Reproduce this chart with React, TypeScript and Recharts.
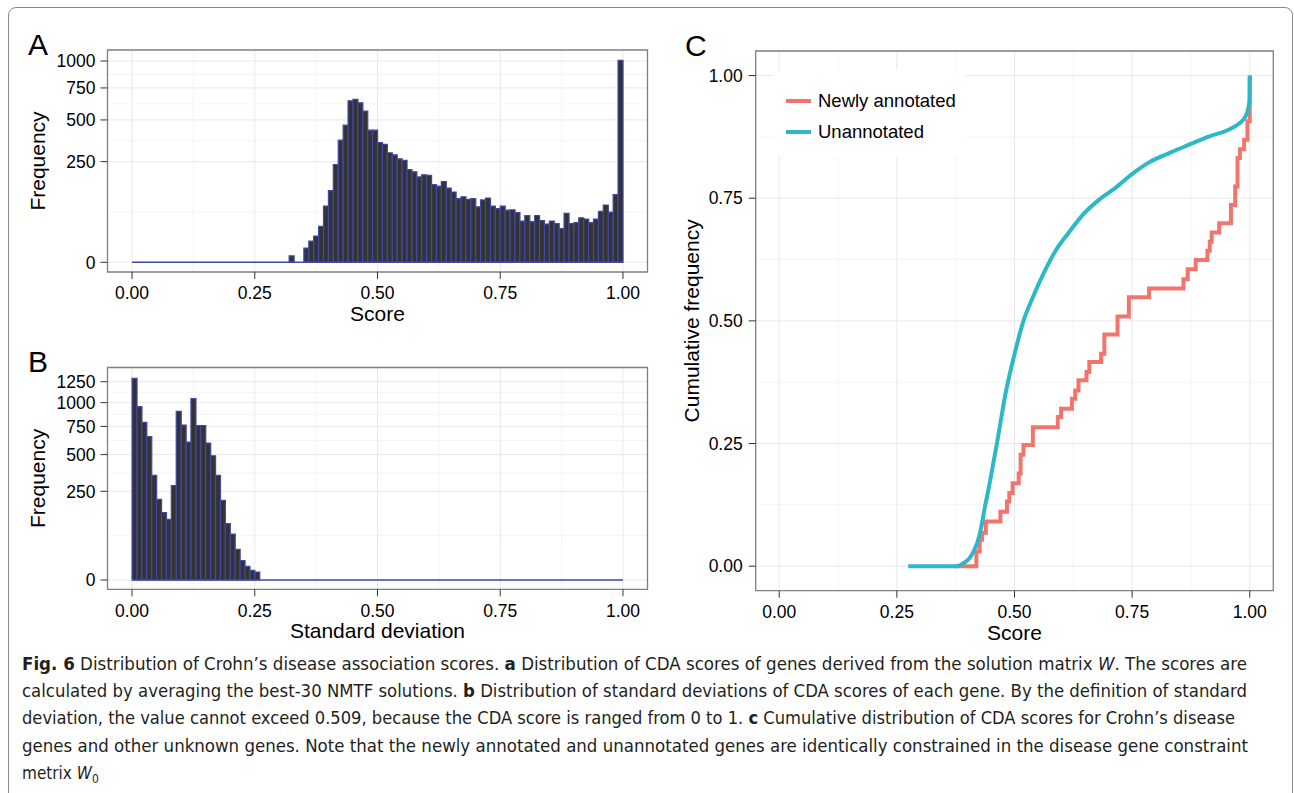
import React from 'react';
import {
  ComposedChart,
  Bar,
  XAxis,
  YAxis,
  CartesianGrid,
  ReferenceArea,
  ReferenceLine,
  LineChart,
  Line,
  Legend,
} from 'recharts';

const FONT = '"Liberation Sans", Arial, Helvetica, sans-serif';
const CAPTION_FONT = '"Liberation Sans Narrow", "DejaVu Sans Condensed", "Roboto", sans-serif';
const BAR_FILL = '#333333';
const BAR_EDGE = '#4049a6';
const MAJOR_GRID = '#e8e8e8';
const MINOR_GRID = '#f4f4f4';
const BORDER = '#7f7f7f';
const RED = '#f2756d';
const TEAL = '#2cb9c5';

// counts per 0.01-wide bin: [0,0.01) ... [0.99,1.00]
const scoreCounts = [
  0, 0, 0, 0, 0, 0, 0, 0, 0, 0,
  0, 0, 0, 0, 0, 0, 0, 0, 0, 0,
  0, 0, 0, 0, 0, 0, 0, 0, 0, 0,
  0, 0, 1, 0, 0, 5, 11, 17, 32, 78,
  127, 236, 368, 464, 644, 655, 628, 564, 431, 431,
  354, 343, 296, 285, 264, 257, 212, 202, 180, 189,
  186, 149, 143, 161, 136, 122, 100, 106, 98, 100,
  76, 96, 102, 78, 71, 78, 67, 68, 61, 42,
  54, 41, 54, 43, 36, 42, 37, 28, 59, 37,
  39, 49, 46, 39, 46, 64, 81, 62, 113, 1005,
];

const sdCounts = [
  1292, 955, 790, 653, 348, 207, 144, 117, 283, 904,
  763, 605, 1045, 757, 757, 596, 491, 348, 202, 101,
  67, 30, 12, 6, 3, 2, 0, 0, 0, 0,
  0, 0, 0, 0, 0, 0, 0, 0, 0, 0,
  0, 0, 0, 0, 0, 0, 0, 0, 0, 0,
  0, 0, 0, 0, 0, 0, 0, 0, 0, 0,
  0, 0, 0, 0, 0, 0, 0, 0, 0, 0,
  0, 0, 0, 0, 0, 0, 0, 0, 0, 0,
  0, 0, 0, 0, 0, 0, 0, 0, 0, 0,
  0, 0, 0, 0, 0, 0, 0, 0, 0, 0,
];

const xTicks = [0, 0.25, 0.5, 0.75, 1];
const xMinor = [0.125, 0.375, 0.625, 0.875];
const scoreYTicks = [0, 250, 500, 750, 1000];
const sdYTicks = [0, 250, 500, 750, 1000, 1250];
const cumTicks = [0, 0.25, 0.5, 0.75, 1];
const cumMinor = [0.125, 0.375, 0.625, 0.875];

// ecdf of newly annotated genes (step after each score)
const newlyAnnotated = [
  { score: 0.373, freq: 0 },
  { score: 0.419, freq: 0.03 },
  { score: 0.426, freq: 0.054 },
  { score: 0.431, freq: 0.068 },
  { score: 0.439, freq: 0.091 },
  { score: 0.47, freq: 0.111 },
  { score: 0.484, freq: 0.132 },
  { score: 0.489, freq: 0.149 },
  { score: 0.496, freq: 0.169 },
  { score: 0.509, freq: 0.189 },
  { score: 0.513, freq: 0.227 },
  { score: 0.519, freq: 0.247 },
  { score: 0.539, freq: 0.283 },
  { score: 0.592, freq: 0.304 },
  { score: 0.599, freq: 0.321 },
  { score: 0.622, freq: 0.341 },
  { score: 0.629, freq: 0.358 },
  { score: 0.636, freq: 0.379 },
  { score: 0.653, freq: 0.396 },
  { score: 0.659, freq: 0.416 },
  { score: 0.684, freq: 0.433 },
  { score: 0.691, freq: 0.472 },
  { score: 0.719, freq: 0.509 },
  { score: 0.743, freq: 0.548 },
  { score: 0.786, freq: 0.566 },
  { score: 0.859, freq: 0.585 },
  { score: 0.868, freq: 0.605 },
  { score: 0.885, freq: 0.624 },
  { score: 0.91, freq: 0.643 },
  { score: 0.915, freq: 0.661 },
  { score: 0.919, freq: 0.68 },
  { score: 0.935, freq: 0.699 },
  { score: 0.96, freq: 0.736 },
  { score: 0.969, freq: 0.774 },
  { score: 0.974, freq: 0.832 },
  { score: 0.979, freq: 0.85 },
  { score: 0.988, freq: 0.869 },
  { score: 0.995, freq: 0.907 },
  { score: 1.0, freq: 1.0 },
];

const unannotated = [
  { score: 0.274, freq: 0 },
  { score: 0.376, freq: 0 },
  { score: 0.39, freq: 0.005 },
  { score: 0.405, freq: 0.017 },
  { score: 0.415, freq: 0.034 },
  { score: 0.422, freq: 0.051 },
  { score: 0.429, freq: 0.078 },
  { score: 0.436, freq: 0.115 },
  { score: 0.447, freq: 0.168 },
  { score: 0.454, freq: 0.205 },
  { score: 0.463, freq: 0.252 },
  { score: 0.472, freq: 0.303 },
  { score: 0.481, freq: 0.352 },
  { score: 0.49, freq: 0.392 },
  { score: 0.5, freq: 0.432 },
  { score: 0.518, freq: 0.497 },
  { score: 0.539, freq: 0.548 },
  { score: 0.56, freq: 0.593 },
  { score: 0.588, freq: 0.644 },
  { score: 0.617, freq: 0.682 },
  { score: 0.645, freq: 0.716 },
  { score: 0.68, freq: 0.747 },
  { score: 0.716, freq: 0.772 },
  { score: 0.751, freq: 0.8 },
  { score: 0.786, freq: 0.823 },
  { score: 0.829, freq: 0.842 },
  { score: 0.871, freq: 0.859 },
  { score: 0.914, freq: 0.876 },
  { score: 0.956, freq: 0.89 },
  { score: 0.977, freq: 0.902 },
  { score: 0.991, freq: 0.917 },
  { score: 0.997, freq: 0.934 },
  { score: 0.9995, freq: 0.951 },
  { score: 1.0, freq: 1.0 },
];

type Seg = { t: string; b?: boolean; i?: boolean; sub?: boolean };
const captionLines: Seg[][] = [
  [
    { t: 'Fig. 6', b: true },
    { t: ' Distribution of Crohn’s disease association scores. ' },
    { t: 'a', b: true },
    { t: ' Distribution of CDA scores of genes derived from the solution matrix ' },
    { t: 'W', i: true },
    { t: '. The scores are' },
  ],
  [
    { t: 'calculated by averaging the best-30 NMTF solutions. ' },
    { t: 'b', b: true },
    { t: ' Distribution of standard deviations of CDA scores of each gene. By the definition of standard' },
  ],
  [
    { t: 'deviation, the value cannot exceed 0.509, because the CDA score is ranged from 0 to 1. ' },
    { t: 'c', b: true },
    { t: ' Cumulative distribution of CDA scores for Crohn’s disease' },
  ],
  [{ t: 'genes and other unknown genes. Note that the newly annotated and unannotated genes are identically constrained in the disease gene constraint' }],
  [{ t: 'metrix ' }, { t: 'W', i: true }, { t: '0', sub: true }],
];
const captionWidths = [1225, 1225, 1213, 1226, 0];

// minor breaks sit halfway between majors in sqrt space (ggplot style)
const sqrtMinor = (ticks: number[]) =>
  ticks.slice(1).map((t, i) => ((Math.sqrt(ticks[i]) + Math.sqrt(t)) / 2) ** 2);

const toBins = (counts: number[]) => counts.map((n, i) => ({ mid: (i + 0.5) / 100, n }));

const tickStyle = { fill: '#000', fontSize: 17.5 };

function Histogram({ counts, yTicks, yDomain, xLabel, marginTop, marginBottom }: any) {
  const data = toBins(counts);
  return (
    <ComposedChart
      width={660}
      height={330}
      data={data}
      margin={{ top: marginTop, right: 12.5, bottom: marginBottom, left: 47.5 }}
      barCategoryGap={0}
    >
      <CartesianGrid horizontalValues={sqrtMinor(yTicks)} verticalValues={xMinor} stroke={MINOR_GRID} />
      <CartesianGrid horizontalValues={yTicks} verticalValues={xTicks} stroke={MAJOR_GRID} />
      <XAxis
        type="number"
        dataKey="mid"
        domain={[-0.05, 1.05]}
        allowDataOverflow
        ticks={xTicks}
        interval={0}
        tickFormatter={(v: number) => v.toFixed(2)}
        axisLine={false}
        tickLine={{ stroke: '#333' }}
        tickSize={7}
        tickMargin={8}
        tick={tickStyle}
        height={50}
        label={{ value: xLabel, position: 'insideBottom', offset: 1, fontSize: 21, fill: '#000' }}
      />
      <YAxis
        type="number"
        scale="sqrt"
        domain={yDomain}
        allowDataOverflow
        ticks={yTicks}
        interval={0}
        axisLine={false}
        tickLine={{ stroke: '#333' }}
        width={60}
        tickSize={7}
        tickMargin={5}
        tick={tickStyle}
        label={{
          value: 'Frequency',
          angle: -90,
          position: 'insideLeft',
          offset: -10,
          fontSize: 21,
          fill: '#000',
          style: { textAnchor: 'middle' },
        }}
      />
      <Bar dataKey="n" fill={BAR_FILL} stroke={BAR_EDGE} strokeWidth={1.2} isAnimationActive={false} />
      <ReferenceLine
        segment={[{ x: 0, y: 0 }, { x: 1, y: 0 }]}
        stroke={BAR_EDGE}
        strokeWidth={1.4}
        ifOverflow="visible"
      />
      <ReferenceArea
        x1={-0.05}
        x2={1.05}
        y1={yDomain[0]}
        y2={yDomain[1]}
        fill="none"
        stroke={BORDER}
        strokeWidth={1.3}
        ifOverflow="visible"
      />
    </ComposedChart>
  );
}

const renderLegend = (props: any) => {
  const payload = props.payload || [];
  return (
    <div style={{ position: 'relative', width: 193, height: 86, background: '#fff', fontFamily: FONT, fontSize: 18.5 }}>
      {payload.map((entry: any, i: number) => (
        <div
          key={entry.value}
          style={{ position: 'absolute', left: 13, top: 20 + i * 31.5, height: 21, display: 'flex', alignItems: 'center', whiteSpace: 'nowrap' }}
        >
          <span style={{ display: 'inline-block', width: 25, height: 4, background: entry.color, marginRight: 7 }} />
          <span style={{ color: '#000' }}>{entry.value}</span>
        </div>
      ))}
    </div>
  );
};

function CumulativeChart() {
  return (
    <LineChart width={634} height={660} margin={{ top: 51, right: 20.7, bottom: 19.3, left: 35.7 }}>
      <CartesianGrid horizontalValues={cumMinor} verticalValues={xMinor} stroke={MINOR_GRID} />
      <CartesianGrid horizontalValues={cumTicks} verticalValues={xTicks} stroke={MAJOR_GRID} />
      <XAxis
        type="number"
        dataKey="score"
        domain={[-0.05, 1.05]}
        allowDataOverflow
        ticks={xTicks}
        interval={0}
        tickFormatter={(v: number) => v.toFixed(2)}
        axisLine={false}
        tickLine={{ stroke: '#333' }}
        tickSize={7}
        tickMargin={8}
        tick={tickStyle}
        height={50}
        label={{ value: 'Score', position: 'insideBottom', offset: 1, fontSize: 21, fill: '#000' }}
      />
      <YAxis
        type="number"
        domain={[-0.05, 1.05]}
        allowDataOverflow
        ticks={cumTicks}
        interval={0}
        tickFormatter={(v: number) => v.toFixed(2)}
        axisLine={false}
        tickLine={{ stroke: '#333' }}
        width={60}
        tickSize={7}
        tickMargin={6}
        tick={tickStyle}
        label={{
          value: 'Cumulative frequency',
          angle: -90,
          position: 'insideLeft',
          offset: -4.2,
          fontSize: 21,
          fill: '#000',
          style: { textAnchor: 'middle' },
        }}
      />
      <Line
        data={newlyAnnotated}
        dataKey="freq"
        name="Newly annotated"
        type="stepAfter"
        stroke={RED}
        strokeWidth={4}
        dot={false}
        isAnimationActive={false}
      />
      <Line
        data={unannotated}
        dataKey="freq"
        name="Unannotated"
        type="monotone"
        stroke={TEAL}
        strokeWidth={4}
        dot={false}
        isAnimationActive={false}
      />
      <Legend
        layout="vertical"
        align="center"
        verticalAlign="middle"
        content={renderLegend}
        wrapperStyle={{ left: 113, top: 70, width: 193, height: 86 }}
      />
      <ReferenceArea
        x1={-0.05}
        x2={1.05}
        y1={-0.05}
        y2={1.05}
        fill="none"
        stroke={BORDER}
        strokeWidth={1.3}
        ifOverflow="visible"
      />
    </LineChart>
  );
}

export default function App() {
  return (
    <div style={{ position: 'relative', width: 1294, height: 793, overflow: 'hidden', background: '#fff', fontFamily: FONT }}>
      <style>{'body{margin:0}'}</style>
      <div
        style={{
          position: 'absolute',
          left: 7.5,
          top: 7,
          width: 1285.5,
          height: 900,
          boxSizing: 'border-box',
          border: '1px solid #8a8a8a',
          borderRadius: 8,
        }}
      />
      <div style={{ position: 'absolute', left: 0, top: 0 }}>
        <Histogram
          counts={scoreCounts}
          yTicks={scoreYTicks}
          yDomain={[-2.32, 1112]}
          xLabel="Score"
          marginTop={50}
          marginBottom={8}
        />
      </div>
      <div style={{ position: 'absolute', left: 0, top: 330 }}>
        <Histogram
          counts={sdCounts}
          yTicks={sdYTicks}
          yDomain={[-2.75, 1436]}
          xLabel="Standard deviation"
          marginTop={37.5}
          marginBottom={20.7}
        />
      </div>
      <div style={{ position: 'absolute', left: 660, top: 0 }}>
        <CumulativeChart />
      </div>
      <svg width={1294} height={793} style={{ position: 'absolute', left: 0, top: 0, pointerEvents: 'none' }}>
        <g fontFamily={FONT} fontSize={30} fill="#000">
          <text x={28} y={55}>A</text>
          <text x={28} y={371.7}>B</text>
          <text x={685} y={56}>C</text>
        </g>
        <g fontFamily={CAPTION_FONT} fontSize={17} fill="#231f20">
          {captionLines.map((line, i) => (
            <text
              key={i}
              x={22}
              y={670 + i * 27.2}
              textLength={captionWidths[i] || undefined}
              lengthAdjust={captionWidths[i] ? 'spacingAndGlyphs' : undefined}
              style={{ whiteSpace: 'pre' }}
            >
              {line.map((s, k) => (
                <tspan
                  key={k}
                  fontWeight={s.b ? 700 : 400}
                  fontStyle={s.i ? 'italic' : 'normal'}
                  fontSize={s.sub ? 12 : undefined}
                  dy={s.sub ? 4 : undefined}
                >
                  {s.t}
                </tspan>
              ))}
            </text>
          ))}
        </g>
      </svg>
    </div>
  );
}
